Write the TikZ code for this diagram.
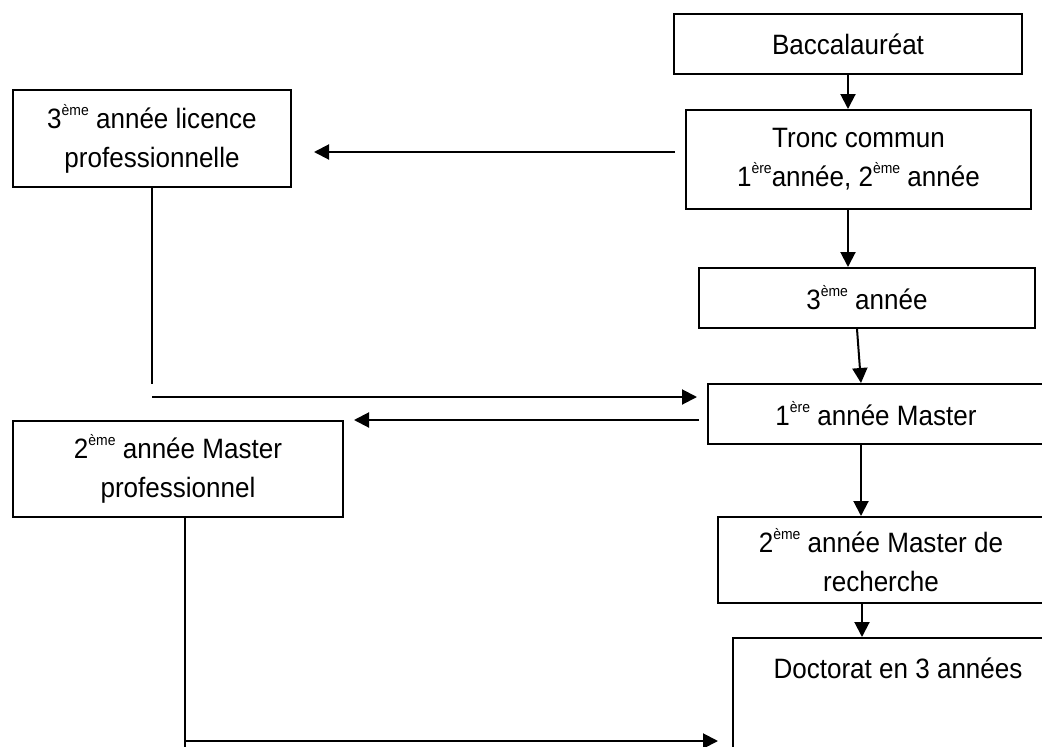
\documentclass[tikz,border=0pt]{standalone}
\usepackage{fontspec}
\setmainfont{Liberation Sans}[FakeStretch=0.93]
\usepackage{tikz}
\usetikzlibrary{
    positioning,
    arrows.meta,
    calc
}
\newcommand{\hsup}[1]{\raisebox{13pt}{\fontsize{15}{15}\selectfont #1}}

\begin{document}
\begin{tikzpicture}[x=1pt, y=-1pt,
        box/.style={draw, line width=2pt, inner sep=0pt, align=center,
            font=\fontsize{28}{39}\selectfont},
        arr/.style={line width=2pt, -{Triangle[length=15pt, width=15pt]}},
        lin/.style={line width=2pt}]
            \useasboundingbox (0,0) rectangle (1042,747);
            \clip (0,0) rectangle (1042,747);

            % right column
            \node[box, minimum width=348, minimum height=60] (bacc) at (848,44) {Baccalauréat};
            \node[box, minimum width=345, minimum height=99] (tronc) at (858.5,159.5)
                {Tronc commun\\1\hsup{ère}année, 2\hsup{ème} année};
            \node[box, minimum width=336, minimum height=60] (trois) at (867,298) {3\hsup{ème} année};
            \node[box, minimum width=336, minimum height=60] (m1) at (876,414) {1\hsup{ère} année Master};
            \node[box, minimum width=326, minimum height=86] (mrech) at (881,560)
                {2\hsup{ème} année Master de\\recherche};
            \node[box, anchor=north west, minimum width=330, text height=40pt, text depth=120pt]
                (doc) at (732,637) {Doctorat en 3 années};

            % left column
            \node[box, minimum width=278, minimum height=97] (lic) at (152,138.5)
                {3\hsup{ème} année licence\\professionnelle};
            \node[box, minimum width=330, minimum height=96] (mpro) at (178,469)
                {2\hsup{ème} année Master\\professionnel};

            \coordinate (tl) at (675,152);
            \coordinate (licEnd) at (152,384);
            \coordinate (licTurn) at (152,397);
            \coordinate (mt) at (699,420);
            \coordinate (m1s) at ([xshift=-15pt]m1.south);
            \coordinate (mrs) at ([xshift=-19pt]mrech.south);
            \coordinate (proFoot) at (185,741);

            % main path
            \draw[arr] (bacc.south) -- (bacc.south |- tronc.north);
            \draw[arr] (tronc.south -| bacc.south) -- (trois.north -| bacc.south);
            \draw[arr] ([xshift=-10pt]trois.south) -- ([xshift=-15pt]m1.north);
            \draw[arr] (m1s) -- (m1s |- mrech.north);
            \draw[arr] (mrs) -- (mrs |- doc.north);

            % side branches
            \draw[arr, shorten >=22pt] (tl) -- (tl -| lic.east);
            \draw[lin] (lic.south) -- (licEnd);
            \draw[arr, shorten >=10pt] (licTurn) -- (licTurn -| m1.west);
            \draw[arr, shorten >=10pt] (mt) -- (mt -| mpro.east);
            \draw[arr, shorten >=14pt] (mpro.south -| proFoot) |- (proFoot -| doc.west);
            \draw[lin] (proFoot) -- ++(0,10);
\end{tikzpicture}
\end{document}
